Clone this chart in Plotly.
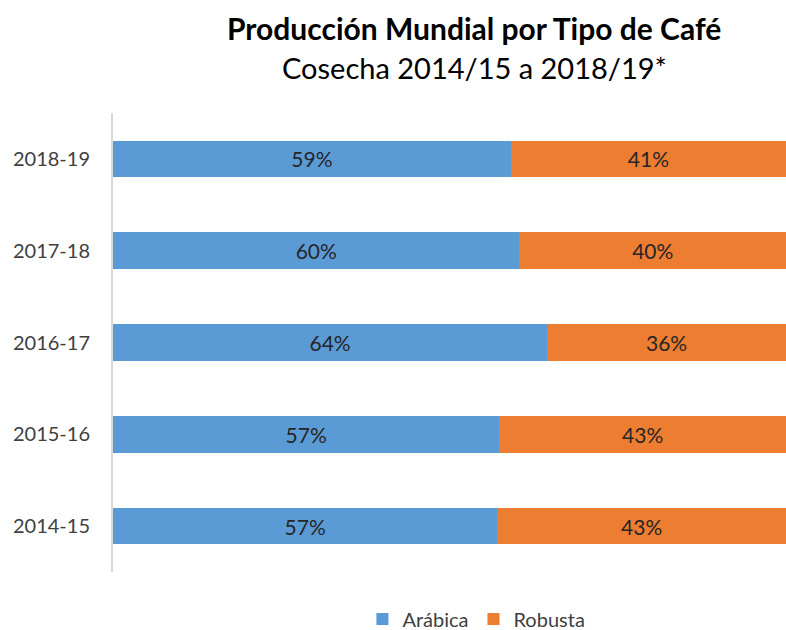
import plotly.graph_objects as go

cosechas = ['2014-15', '2015-16', '2016-17', '2017-18', '2018-19']
arabica = [57.1, 57.4, 64.5, 60.4, 59.1]
robusta = [42.9, 42.6, 35.5, 39.6, 40.9]

AZUL = '#5B9BD5'
NARANJA = '#ED7D31'
FUENTE = 'Lato'

fig = go.Figure()

fig.add_trace(go.Bar(
    y=cosechas, x=arabica, name='Arábica', orientation='h',
    marker=dict(color=AZUL, line=dict(width=0)),
    text=[f'{round(v)}%' for v in arabica],
    textposition='inside', insidetextanchor='middle',
    textfont=dict(size=21, color='#262626', family=FUENTE),
))
fig.add_trace(go.Bar(
    y=cosechas, x=robusta, name='Robusta', orientation='h',
    marker=dict(color=NARANJA, line=dict(width=0)),
    text=[f'{round(v)}%' for v in robusta],
    textposition='inside', insidetextanchor='middle',
    textfont=dict(size=21, color='#262626', family=FUENTE),
))

ALTO = 630
M_TOP, M_BOT = 113, 58

fig.update_layout(
    width=786, height=ALTO,
    barmode='stack', bargap=0.6,
    plot_bgcolor='white', paper_bgcolor='white',
    margin=dict(l=113, r=0, t=M_TOP, b=M_BOT, autoexpand=False),
    font=dict(family=FUENTE, color='#404040'),
    showlegend=True,
    legend=dict(orientation='h', x=0.54, xanchor='center',
                y=-(619 - (ALTO - M_BOT)) / (ALTO - M_TOP - M_BOT), yanchor='middle',
                font=dict(size=20, color='#404040'), traceorder='normal'),
)

# title lines, placed by pixel offset from the top
for texto, ypix, bold, tam in [('Producción Mundial por Tipo de Café', 28, True, 30),
                               ('Cosecha 2014/15 a 2018/19*', 67, False, 29)]:
    fig.add_annotation(
        text=f'<b>{texto}</b>' if bold else texto,
        x=0.537, xref='paper', xanchor='center',
        y=1 + (M_TOP - ypix) / (ALTO - M_TOP - M_BOT), yref='paper', yanchor='middle',
        showarrow=False, font=dict(size=tam, color='black'),
    )

fig.update_xaxes(range=[0, 100], showgrid=False, showticklabels=False, zeroline=False, fixedrange=True)
fig.update_yaxes(showline=True, linecolor='#D9D9D9', linewidth=2, showgrid=False,
                 ticks='', ticklabelstandoff=17, tickfont=dict(size=20, color='#404040'))

fig.write_html('out.html', config={'displayModeBar': False},
               post_script="document.body.style.margin='0';")
